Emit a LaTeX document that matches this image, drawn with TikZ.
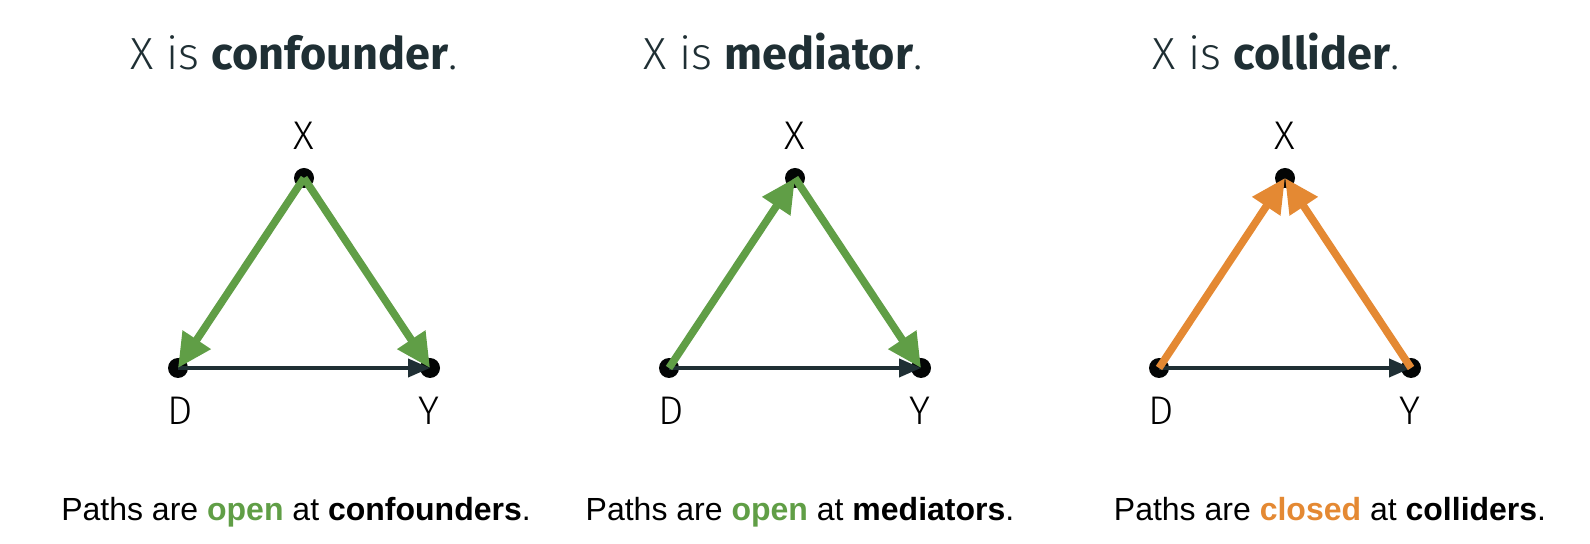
\documentclass[tikz,border=0pt]{standalone}
\usepackage{fontspec}
\setmainfont{Liberation Sans}
\newfontfamily\firafont{Fira Sans}
\newfontfamily\firalight{Fira Sans Light}
\usepackage{xcolor}
\usetikzlibrary{arrows.meta,positioning}

\definecolor{dagdark}{RGB}{31,47,52}
\definecolor{opengreen}{RGB}{96,158,70}
\definecolor{closedorange}{RGB}{228,137,51}

\begin{document}
\begin{tikzpicture}[x=0.5pt, y=-0.5pt,
    dot/.style={circle, fill=black!90!dagdark, minimum size=10pt, inner sep=0pt},
    lbl/.style={font=\firalight\fontsize{20}{24}\selectfont, text=black, anchor=base},
    heading/.style={font=\firalight\fontsize{22.5}{27}\selectfont, text=dagdark, anchor=base},
    note/.style={font=\fontsize{16}{19}\selectfont, text=black, anchor=base},
    base/.style={draw=dagdark, line width=2pt, -{Triangle[length=11pt,width=9pt]}},
    flow/.style={line width=3.8pt, -{Triangle[length=17pt,width=16pt]}}
]
    \useasboundingbox (0,0) rectangle (1590,544);

    % Dots and letters, one triangle per panel
    \foreach \i/\dx in {1/0, 2/491, 3/981} {
        \node[dot] (d\i) at (178+\dx, 368) {};
        \node[dot] (x\i) at (304+\dx, 178) {};
        \node[dot] (y\i) at (430+\dx, 368) {};
        \node[lbl] (dl\i) at (180+\dx, 425) {D};
        \node[lbl] (xl\i) at (304+\dx, 150) {X};
        \node[lbl] (yl\i) at (429+\dx, 425) {Y};
    }

    % Headings
    \node[heading] (h1) at (294, 70) {X is {\firafont\bfseries confounder}.};
    \node[heading] (h2) at (783, 70) {X is {\firafont\bfseries mediator}.};
    \node[heading] (h3) at (1276, 70) {X is {\firafont\bfseries collider}.};

    % Panel 1: confounder
    \draw[base] (x1.center) -- (d1.center);
    \draw[base] (x1.center) -- (y1.center);
    \draw[base] (d1.center) -- (y1.center);
    \draw[flow, opengreen] (x1.center) -- (d1.center);
    \draw[flow, opengreen] (x1.center) -- (y1.center);

    % Panel 2: mediator
    \draw[base] (d2.center) -- (x2.center);
    \draw[base] (x2.center) -- (y2.center);
    \draw[base] (d2.center) -- (y2.center);
    \draw[flow, opengreen] (d2.center) -- (x2.center);
    \draw[flow, opengreen] (x2.center) -- (y2.center);

    % Panel 3: collider
    \draw[base] (d3.center) -- (x3.center);
    \draw[base] (y3.center) -- (x3.center);
    \draw[base] (d3.center) -- (y3.center);
    \draw[flow, closedorange] (d3.center) -- (x3.center);
    \draw[flow, closedorange] (y3.center) -- (x3.center);

    % Notes below
    \node[note] (n1) at (296, 521) {Paths are \textbf{\color{opengreen}open} at \textbf{confounders}.};
    \node[note] (n2) at (800, 521) {Paths are \textbf{\color{opengreen}open} at \textbf{mediators}.};
    \node[note] (n3) at (1330, 521) {Paths are \textbf{\color{closedorange}closed} at \textbf{colliders}.};
\end{tikzpicture}
\end{document}
